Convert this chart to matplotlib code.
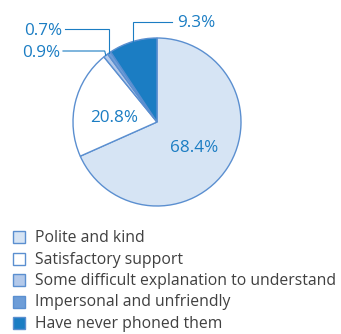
import numpy as np
import matplotlib
matplotlib.use('Agg')
import matplotlib.pyplot as plt
from matplotlib.patches import Rectangle

plt.rcParams['font.family'] = ['Open Sans', 'DejaVu Sans']

# data
categories = ['Polite and kind', 'Satisfactory support',
              'Some difficult explanation to understand',
              'Impersonal and unfriendly', 'Have never phoned them']
values = [68.4, 20.8, 0.9, 0.7, 9.3]
colors = ['#d6e4f4', '#ffffff', '#b3c9ea', '#6d9dd8', '#1b7dc3']

W, H = 341, 334
fig = plt.figure(figsize=(W / 100, H / 100), dpi=100)
ax = fig.add_axes([0, 0, 1, 1])

cx, cy, R = 157, H - 122, 84
wedges, _ = ax.pie(values, colors=colors, startangle=90, counterclock=False,
                   radius=R, center=(cx, cy),
                   wedgeprops=dict(edgecolor='#5b8fd0', linewidth=1.0))
ax.set_xlim(0, W)
ax.set_ylim(0, H)
ax.set_aspect('auto')
ax.axis('off')

blue = '#1b7dc3'
fs = 12.3
# inner labels
for w, v in zip(wedges[:2], values[:2]):
    mid = np.deg2rad((w.theta1 + w.theta2) / 2)
    r = 0.53 * R
    dy = -6 if v < 50 else -2
    ax.text(cx + r * np.cos(mid), cy + r * np.sin(mid) + dy, '%.1f%%' % v,
            ha='center', va='center', fontsize=fs, color=blue)

# outer labels with leader lines
outer = {2: (H - 51, 63, 'left'), 3: (H - 29, 65, 'left'), 4: (H - 22, 172, 'right')}
for i, (ly, lx, side) in outer.items():
    w = wedges[i]
    mid = np.deg2rad((w.theta1 + w.theta2) / 2)
    ex, ey = cx + R * np.cos(mid), cy + R * np.sin(mid)
    if i == 2:
        xs = [ex, ex - 1, lx]
    else:
        xs = [ex, ex, lx]
    ys = [ey, ly, ly]
    ax.plot(xs, ys, color=blue, lw=0.8, solid_joinstyle='miter')
    if side == 'left':
        ax.text(lx - 3, ly - 2, '%.1f%%' % values[i], ha='right', va='center',
                fontsize=fs, color=blue)
    else:
        ax.text(lx + 5, ly - 1, '%.1f%%' % values[i], ha='left', va='center',
                fontsize=fs, color=blue)

# legend
y0, step = H - 237, 21.5
for k, (lab, c) in enumerate(zip(categories, colors)):
    yy = y0 - k * step
    ax.add_patch(Rectangle((13, yy - 6), 12, 12, facecolor=c,
                           edgecolor='#5b8fd0', linewidth=1.0))
    ax.text(35, yy - 1, lab, ha='left', va='center', fontsize=11.3, color='#404040')

fig.savefig('out.png', dpi=100)
